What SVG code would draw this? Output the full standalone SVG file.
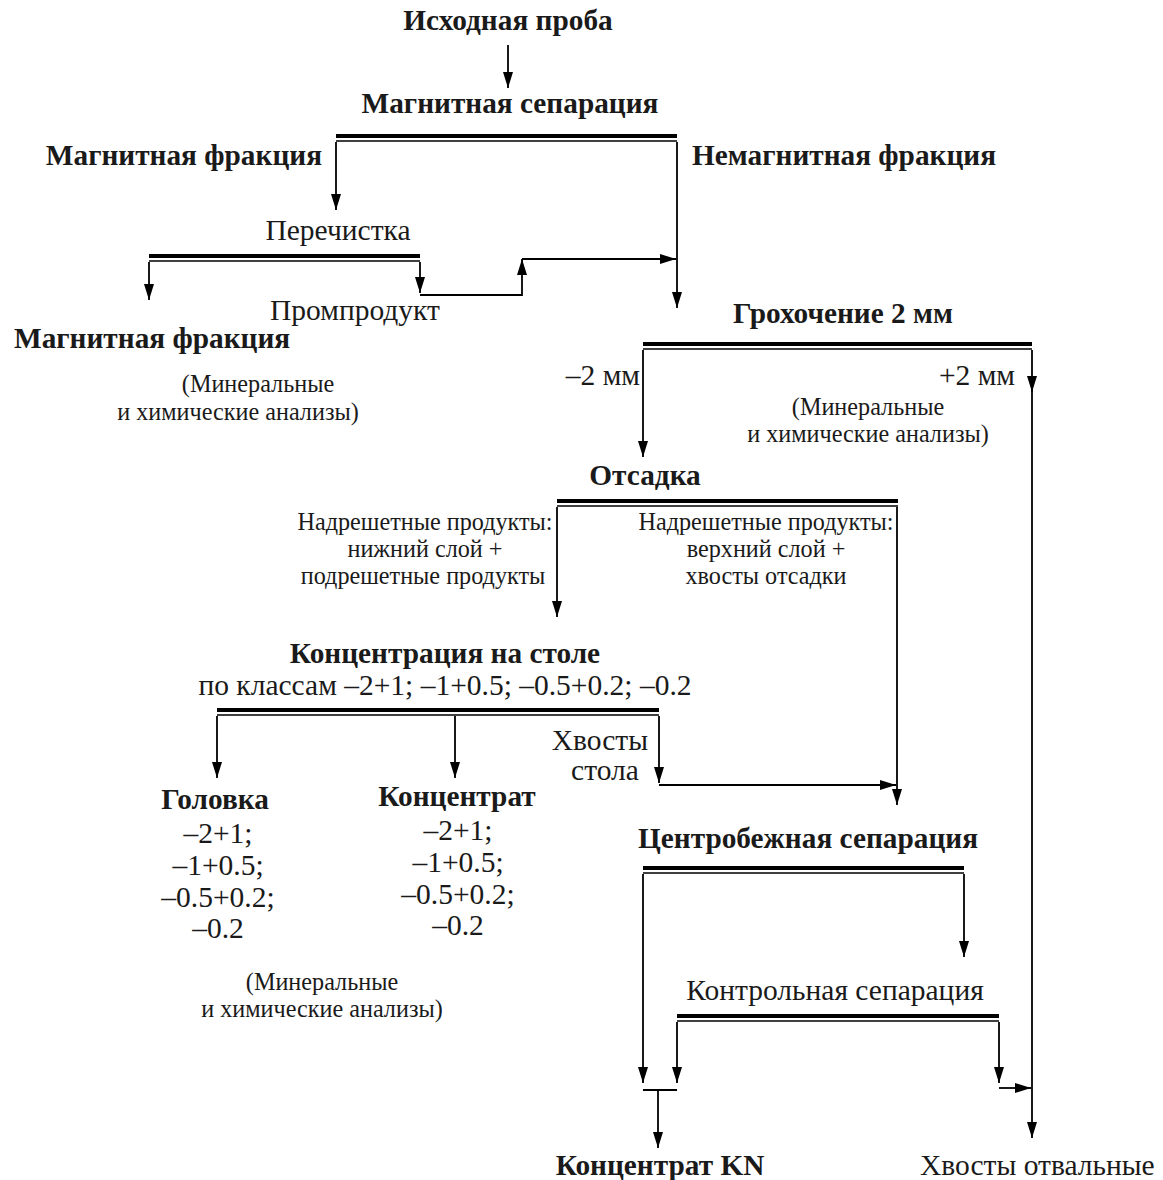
<svg xmlns="http://www.w3.org/2000/svg" width="1163" height="1180" viewBox="0 0 1163 1180">
<style>
text{font-family:"Liberation Serif","Times New Roman",serif;fill:#1a1a1a}
.b{font-weight:bold;font-size:29.3px}
.r{font-size:29.5px}
.s{font-size:24.2px}
.m{text-anchor:middle}
.e{text-anchor:end}
.thick{stroke:#000;stroke-width:4;fill:none}
.thin{stroke:#000;stroke-width:1.6;fill:none}
.c{stroke:#000;stroke-width:1.8;fill:none}
.a{marker-end:url(#ah)}
</style>
<defs>
<marker id="ah" viewBox="0 0 16 10" refX="16" refY="5" markerWidth="16" markerHeight="10" markerUnits="userSpaceOnUse" orient="auto">
<path d="M0,0 L16,5 L0,10 z" fill="#000"/>
</marker>
</defs>
<rect width="1163" height="1180" fill="#fff"/>

<g id="n-start"><text class="b m" x="508" y="30">Исходная проба</text></g>

<g id="n-magsep">
<text class="b m" x="510" y="113">Магнитная сепарация</text>
<path class="thick" d="M336,136 H677"/><path class="thin" d="M336,141 H677"/>
</g>
<g id="n-magfrac1"><text class="b e" x="322" y="165">Магнитная фракция</text></g>
<g id="n-nonmag"><text class="b" x="692" y="165">Немагнитная фракция</text></g>

<g id="n-clean">
<text class="r m" x="338" y="240">Перечистка</text>
<path class="thick" d="M149,256 H420"/><path class="thin" d="M149,261 H420"/>
</g>
<g id="n-middling"><text class="r m" x="355" y="320">Промпродукт</text></g>
<g id="n-magfrac2">
<text class="b" x="14" y="348">Магнитная фракция</text>
<text class="s m" x="258" y="392">(Минеральные</text>
<text class="s m" x="238" y="420">и химические анализы)</text>
</g>

<g id="n-screen">
<text class="b m" x="843" y="323">Грохочение 2 мм</text>
<path class="thick" d="M643,344 H1032"/><path class="thin" d="M643,349 H1032"/>
</g>
<g id="n-minus2"><text class="r e" x="640" y="385">–2 мм</text></g>
<g id="n-plus2">
<text class="r e" x="1015" y="385">+2 мм</text>
<text class="s m" x="868" y="415">(Минеральные</text>
<text class="s m" x="868" y="442">и химические анализы)</text>
</g>

<g id="n-jig">
<text class="b m" x="645" y="485">Отсадка</text>
<path class="thick" d="M557,501 H898"/><path class="thin" d="M557,506 H898"/>
</g>
<g id="n-jig-lower">
<text class="s m" x="425" y="530">Надрешетные продукты:</text>
<text class="s m" x="425" y="557">нижний слой +</text>
<text class="s m" x="423" y="584">подрешетные продукты</text>
</g>
<g id="n-jig-upper">
<text class="s m" x="766" y="530">Надрешетные продукты:</text>
<text class="s m" x="766" y="557">верхний слой +</text>
<text class="s m" x="766" y="584">хвосты отсадки</text>
</g>

<g id="n-table">
<text class="b m" x="445" y="663">Концентрация на столе</text>
<text class="r m" x="445" y="695">по классам –2+1; –1+0.5; –0.5+0.2; –0.2</text>
<path class="thick" d="M217,710 H659"/><path class="thin" d="M217,715 H659"/>
</g>
<g id="n-table-tails">
<text class="r e" x="648" y="750">Хвосты</text>
<text class="r m" x="605" y="780">стола</text>
</g>
<g id="n-head">
<text class="b m" x="215" y="809">Головка</text>
<text class="r m" x="218" y="843">–2+1;</text>
<text class="r m" x="218" y="875">–1+0.5;</text>
<text class="r m" x="218" y="907">–0.5+0.2;</text>
<text class="r m" x="218" y="938">–0.2</text>
<text class="s m" x="322" y="990">(Минеральные</text>
<text class="s m" x="322" y="1017">и химические анализы)</text>
</g>
<g id="n-conc">
<text class="b m" x="457" y="806">Концентрат</text>
<text class="r m" x="458" y="840">–2+1;</text>
<text class="r m" x="458" y="872">–1+0.5;</text>
<text class="r m" x="458" y="904">–0.5+0.2;</text>
<text class="r m" x="458" y="935">–0.2</text>
</g>

<g id="n-centrifuge">
<text class="b m" x="808" y="848">Центробежная сепарация</text>
<path class="thick" d="M643,868 H964"/><path class="thin" d="M643,873 H964"/>
</g>
<g id="n-control">
<text class="r m" x="835" y="1000">Контрольная сепарация</text>
<path class="thick" d="M677,1016 H999"/><path class="thin" d="M677,1021 H999"/>
</g>
<g id="n-concKN"><text class="b m" x="660" y="1175">Концентрат KN</text></g>
<g id="n-tails"><text class="r" x="920" y="1175">Хвосты отвальные</text></g>

<g id="connectors">
<path class="c a" d="M508,45 V88"/>
<path class="c a" d="M336,142 V210"/>
<path class="c a" d="M677,142 V308"/>
<path class="c a" d="M149,262 V300"/>
<path class="c a" d="M420,262 V293"/>
<path class="c a" d="M420,295 H522 V259"/>
<path class="c a" d="M522,259 H676"/>
<path class="c a" d="M643,350 V457"/>
<path class="c a" d="M1032,350 V392"/>
<path class="c a" d="M1032,390 V1138"/>
<path class="c a" d="M557,507 V617"/>
<path class="c a" d="M897,507 V805"/>
<path class="c a" d="M217,716 V778"/>
<path class="c a" d="M455,716 V778"/>
<path class="c a" d="M659,716 V783"/>
<path class="c a" d="M659,785 H896"/>
<path class="c a" d="M643,874 V1083"/>
<path class="c a" d="M964,874 V957"/>
<path class="c a" d="M677,1022 V1083"/>
<path class="c a" d="M999,1022 V1083"/>
<path class="c" d="M643,1090 H677"/>
<path class="c a" d="M658,1090 V1148"/>
<path class="c a" d="M999,1088 H1031"/>
</g>
</svg>
